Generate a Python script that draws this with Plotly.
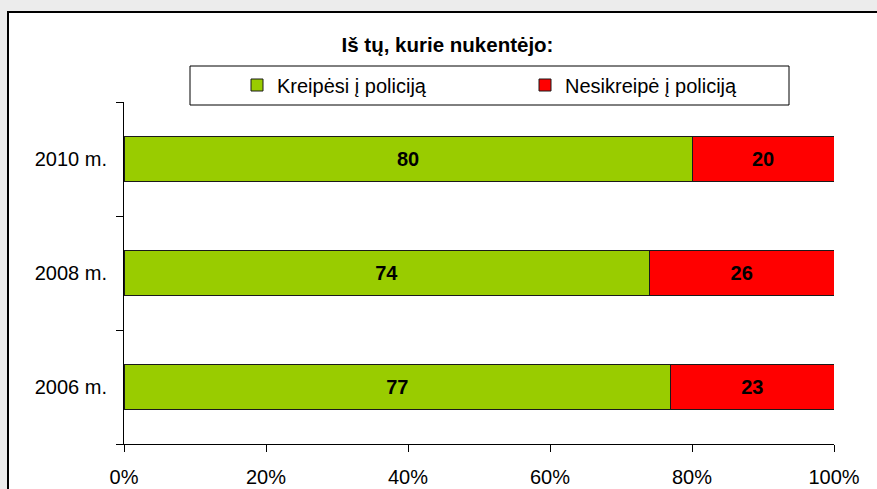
import plotly.graph_objects as go

years = ["2006 m.", "2008 m.", "2010 m."]
reported = [77, 74, 80]
not_reported = [23, 26, 20]
series_names = ["Kreipėsi į policiją", "Nesikreipė į policiją"]
x_ticks = [0, 20, 40, 60, 80, 100]
x_tick_labels = ["0%", "20%", "40%", "60%", "80%", "100%"]
title_text = "Iš tų, kurie nukentėjo:"

FONT = "Liberation Sans, Arial, sans-serif"
W, H = 877, 489
L, R, T, B = 124, 43, 102, 45
PW, PH = W - L - R, H - T - B

def px_x(p):
    return (p - L) / PW

def px_y(p):
    return (H - B - p) / PH

fig = go.Figure()
for name, vals, col in [(series_names[0], reported, "#99CC00"),
                        (series_names[1], not_reported, "#FF0000")]:
    fig.add_trace(go.Bar(
        y=years, x=vals, name=name, orientation="h",
        marker=dict(color=col, line=dict(color="#1a1a1a", width=1)),
        text=[str(v) for v in vals], textposition="inside",
        insidetextanchor="middle", textangle=0,
        textfont=dict(family=FONT, size=20, color="black", weight="bold"),
        width=0.4,
    ))

shapes = [
    dict(type="rect", xref="paper", yref="paper", layer="below",
         x0=px_x(8), x1=px_x(W + 20), y0=px_y(H + 20), y1=px_y(12),
         fillcolor="white", line=dict(color="black", width=2)),
    dict(type="rect", xref="paper", yref="paper", layer="below",
         x0=px_x(190), x1=px_x(789), y0=px_y(105), y1=px_y(66),
         fillcolor="white", line=dict(color="black", width=1)),
]

fig.update_layout(
    width=W, height=H,
    margin=dict(l=L, r=R, t=T, b=B, autoexpand=False),
    barmode="stack",
    paper_bgcolor="#ececec",
    plot_bgcolor="rgba(0,0,0,0)",
    font=dict(family=FONT, size=20, color="black"),
    title=dict(text=title_text, x=447.5 / W, xanchor="center",
               y=1 - 45 / H, yanchor="middle", yref="container",
               font=dict(family=FONT, size=20.5, color="black", weight="bold")),
    showlegend=True,
    legend=dict(orientation="h", xref="container", yref="container",
                x=237 / W, xanchor="left",
                y=1 - 85 / H, yanchor="middle", bgcolor="rgba(0,0,0,0)",
                borderwidth=0, entrywidth=243, entrywidthmode="pixels",
                font=dict(family=FONT, size=20, color="black"),
                traceorder="normal"),
    shapes=shapes,
    xaxis=dict(range=[0, 100], tickvals=x_ticks, ticktext=x_tick_labels,
               showgrid=False, zeroline=False, showline=True,
               linecolor="black", linewidth=1, ticks="outside", ticklen=7,
               tickcolor="black", tickfont=dict(size=20), automargin=False,
               ticklabelstandoff=8, fixedrange=True),
    yaxis=dict(categoryorder="array", categoryarray=years,
               range=[-0.5, 2.5], showgrid=False, zeroline=False,
               showline=True, linecolor="black", linewidth=1,
               ticks="outside", ticklen=7, tickcolor="black",
               tickson="boundaries", tickfont=dict(size=20), automargin=False,
               ticklabelstandoff=12, fixedrange=True),
    bargap=0.6,
)

fig.write_html(
    "out.html",
    config={"displayModeBar": False},
    post_script="document.body.style.margin='0';document.body.style.overflow='hidden';",
)
